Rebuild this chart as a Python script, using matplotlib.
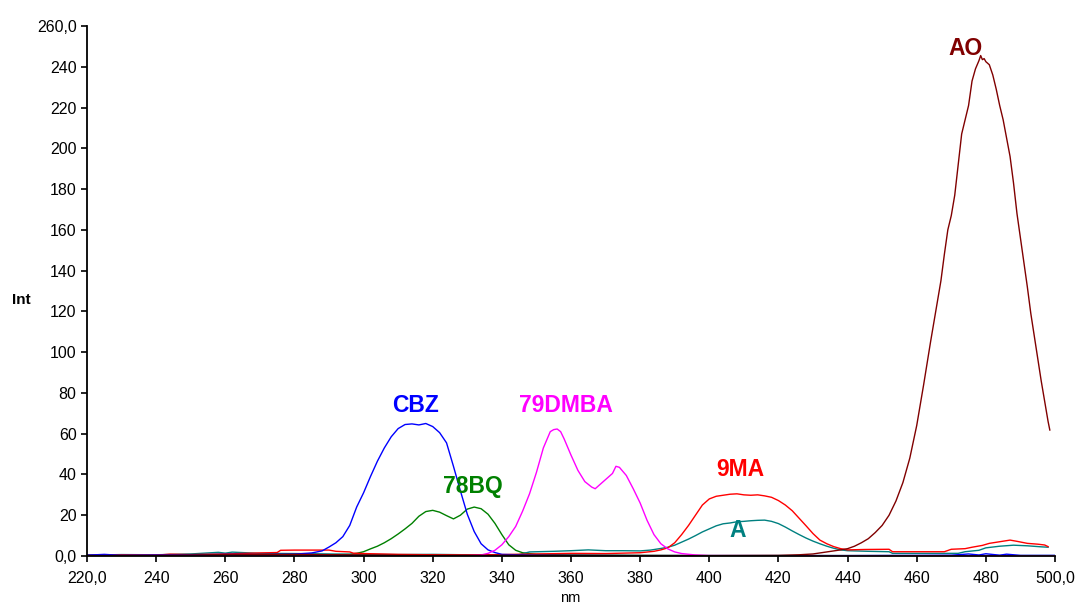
import matplotlib
matplotlib.use('Agg')
import matplotlib.pyplot as plt
import numpy as np

plt.rcParams['font.family'] = ['Liberation Sans', 'DejaVu Sans']

# emission spectra, intensity vs wavelength (nm)
cbz_nm = [220, 225, 230, 240, 250, 260, 270, 280, 285, 288, 290, 292, 294, 296, 298,
          300, 302, 304, 306, 308, 310, 312, 314, 316, 318, 320, 322, 324, 326, 328,
          330, 332, 334, 336, 338, 340, 350, 360, 380, 400, 420, 440, 460, 470, 475,
          478, 480, 484, 486, 490, 500]
cbz = [0.4, 0.8, 0.3, 0.5, 0.6, 0.8, 0.7, 0.9, 1.5, 2.5, 4.4, 6.5, 9.5, 15.0, 24.0,
       31.0, 39.0, 46.5, 53.0, 58.5, 62.5, 64.5, 64.8, 64.3, 65.0, 63.5, 60.5, 55.5, 44.0, 32.0,
       20.5, 12.0, 6.0, 3.0, 1.7, 0.8, 0.4, 0.3, 0.2, 0.2, 0.2, 0.2, 0.3, 0.4, 1.0,
       0.5, 1.1, 0.4, 0.9, 0.3, 0.3]

bq_nm = [220, 230, 240, 250, 260, 270, 280, 290, 296, 298, 300, 302, 304, 306, 308,
         310, 312, 314, 316, 318, 320, 322, 324, 326, 328, 330, 332, 334, 336, 338,
         340, 342, 344, 346, 350, 360, 380, 400, 420, 440, 460, 480, 500]
bq = [0.5, 0.6, 0.5, 0.7, 0.8, 0.6, 0.5, 0.6, 0.8, 1.3, 2.1, 3.5, 4.8, 6.5, 8.5,
      10.8, 13.3, 16.0, 19.5, 21.8, 22.4, 21.5, 19.8, 18.2, 20.0, 23.0, 24.0, 23.2, 20.5, 16.0,
      10.5, 5.5, 2.8, 1.6, 0.8, 0.5, 0.3, 0.2, 0.2, 0.2, 0.2, 0.2, 0.2]

dmba_nm = [220, 240, 260, 280, 300, 320, 330, 334, 336, 338, 340, 342, 344, 346, 348,
           350, 352, 354, 355, 356, 357, 358, 360, 362, 364, 366, 367, 368, 370, 372,
           373, 374, 376, 378, 380, 382, 384, 386, 388, 390, 392, 396, 400, 440, 470, 500]
dmba = [0.1, 0.2, 0.1, 0.2, 0.1, 0.1, 0.2, 0.5, 1.3, 2.8, 5.5, 9.5, 14.5, 22.0, 30.5,
        41.0, 53.0, 61.0, 62.0, 62.3, 61.0, 57.5, 49.5, 42.0, 36.5, 33.8, 33.0, 34.5, 37.5, 40.5,
        44.0, 43.5, 39.5, 33.0, 26.0, 17.5, 10.5, 6.0, 3.5, 2.0, 1.2, 0.5, 0.2, 0.1, 0.1, 0.1]

ma_nm = [220, 230, 240, 244, 250, 260, 270, 275, 276, 280, 285, 290, 292, 296, 297,
         300, 310, 320, 330, 340, 350, 360, 370, 380, 384, 386, 388, 390, 392, 394,
         396, 398, 400, 402, 404, 406, 408, 410, 412, 414, 416, 418, 420, 422, 424,
         426, 428, 430, 432, 434, 436, 438, 440, 445, 452, 453, 460, 468, 470, 474,
         476, 479, 481, 484, 487, 489, 492, 495, 497, 498]
ma = [0.3, 0.5, 0.4, 0.9, 0.7, 1.0, 1.5, 1.7, 2.8, 2.9, 2.9, 2.9, 2.3, 2.0, 1.4,
      1.2, 0.8, 0.6, 0.5, 0.7, 1.0, 1.3, 1.2, 1.6, 2.3, 3.0, 4.0, 6.5, 10.5, 15.0,
      20.0, 25.0, 28.0, 29.3, 29.8, 30.3, 30.5, 30.0, 29.8, 30.0, 29.5, 28.8, 27.2, 25.0, 22.2,
      18.5, 14.8, 11.0, 7.8, 6.0, 4.6, 3.6, 3.0, 3.2, 3.3, 2.1, 2.1, 2.1, 3.3, 3.6,
      4.3, 5.2, 6.2, 7.0, 7.8, 7.2, 6.2, 5.8, 5.4, 4.6]

a_nm = [220, 230, 240, 250, 258, 260, 262, 270, 280, 290, 300, 310, 320, 330, 340,
        345, 348, 355, 360, 365, 370, 375, 380, 383, 386, 388, 390, 392, 394, 396,
        398, 400, 402, 404, 406, 408, 410, 412, 414, 416, 418, 420, 422, 424, 426,
        428, 430, 432, 434, 436, 438, 440, 446, 452, 453, 460, 472, 474, 478, 480,
        484, 488, 492, 496, 498]
a = [0.4, 0.7, 0.6, 1.0, 1.8, 1.4, 1.9, 1.3, 1.2, 1.0, 0.8, 0.7, 0.8, 0.6, 0.5,
     0.7, 2.0, 2.3, 2.6, 3.0, 2.6, 2.6, 2.5, 2.9, 3.7, 4.3, 5.3, 6.8, 8.3, 10.0,
     11.8, 13.3, 14.8, 15.8, 16.2, 16.8, 17.0, 17.3, 17.5, 17.6, 17.0, 15.9, 14.2, 12.3, 10.5,
     8.8, 7.3, 6.0, 4.8, 3.8, 3.0, 2.6, 2.3, 2.1, 1.3, 1.3, 1.3, 2.1, 2.8, 4.0,
     4.8, 5.3, 5.0, 4.5, 4.3]

ao_nm = [220, 240, 250, 260, 280, 300, 320, 340, 360, 380, 400, 420, 426, 430, 434,
         438, 440, 442, 444, 446, 448, 450, 452, 454, 456, 458, 460, 462, 464, 466,
         467, 468, 469, 470, 471, 472, 473, 474, 475, 476, 477, 478, 478.5, 479, 479.5,
         480, 481, 482, 483, 484, 485, 486, 487, 488, 489, 490, 491, 492, 493, 494,
         495, 496, 497, 498, 498.5]
ao = [0.2, 0.3, 0.5, 0.7, 0.8, 0.5, 0.3, 0.4, 0.3, 0.2, 0.2, 0.3, 0.6, 1.0, 2.0,
      3.0, 3.6, 4.8, 6.5, 8.5, 11.5, 15.0, 20.0, 27.0, 36.0, 48.0, 64.0, 84.0, 105.0, 125.0,
      135.0, 148.0, 160.0, 167.0, 177.0, 192.0, 207.0, 214.0, 221.0, 233.0, 239.0, 243.0, 245.5, 243.5, 244.0,
      242.5, 241.0, 236.0, 229.0, 221.0, 214.0, 205.0, 196.0, 183.0, 168.0, 156.0, 144.0, 132.0, 119.0, 108.0,
      97.0, 86.0, 76.0, 66.0, 61.8]

x_ticks = [220, 240, 260, 280, 300, 320, 340, 360, 380, 400, 420, 440, 460, 480, 500]
x_labels = ['220,0', '240', '260', '280', '300', '320', '340', '360', '380', '400',
            '420', '440', '460', '480', '500,0']
y_ticks = [0, 20, 40, 60, 80, 100, 120, 140, 160, 180, 200, 220, 240, 260]
y_labels = ['0,0', '20', '40', '60', '80', '100', '120', '140', '160', '180', '200',
            '220', '240', '260,0']

fig = plt.figure(figsize=(10.79, 6.06), dpi=100)
ax = fig.add_axes([87 / 1079, 50 / 606, 968 / 1079, 530 / 606])

lw = 1.0
ax.plot(bq_nm, bq, color='#008000', lw=lw)
ax.plot(a_nm, a, color='#008080', lw=lw)
ax.plot(ma_nm, ma, color='#ff0000', lw=lw)
ax.plot(cbz_nm, cbz, color='#0000ff', lw=lw)
ax.plot(dmba_nm, dmba, color='#ff00ff', lw=lw)
ax.plot(ao_nm, ao, color='#800000', lw=lw)

lab = dict(fontsize=16.5, fontweight='bold', ha='center', va='center')
ax.text(314.9, 74, 'CBZ', color='#0000ff', **lab)
ax.text(331.7, 34, '78BQ', color='#008000', **lab)
ax.text(358.6, 74, '79DMBA', color='#ff00ff', **lab)
ax.text(409, 42.5, '9MA', color='#ff0000', **lab)
ax.text(408.3, 12.5, 'A', color='#008080', **lab)
ax.text(474, 249, 'AO', color='#800000', **lab)

ax.set_xlim(220, 500)
ax.set_ylim(0, 260)
ax.set_xticks(x_ticks)
ax.set_xticklabels(x_labels)
ax.set_yticks(y_ticks)
ax.set_yticklabels(y_labels)
ax.tick_params(direction='out', length=4.5, width=1.2, labelsize=11.5, pad=3)
ax.tick_params(axis='x', pad=6)

for s in ['top', 'right']:
    ax.spines[s].set_visible(False)
for s in ['left', 'bottom']:
    ax.spines[s].set_linewidth(1.3)

fig.text(21 / 1079, 1 - 300 / 606, 'Int', fontsize=11, fontweight='bold', ha='center', va='center')
fig.text(570 / 1079, 1 - 598 / 606, 'nm', fontsize=10.5, ha='center', va='center')

fig.savefig('out.png', dpi=100)
